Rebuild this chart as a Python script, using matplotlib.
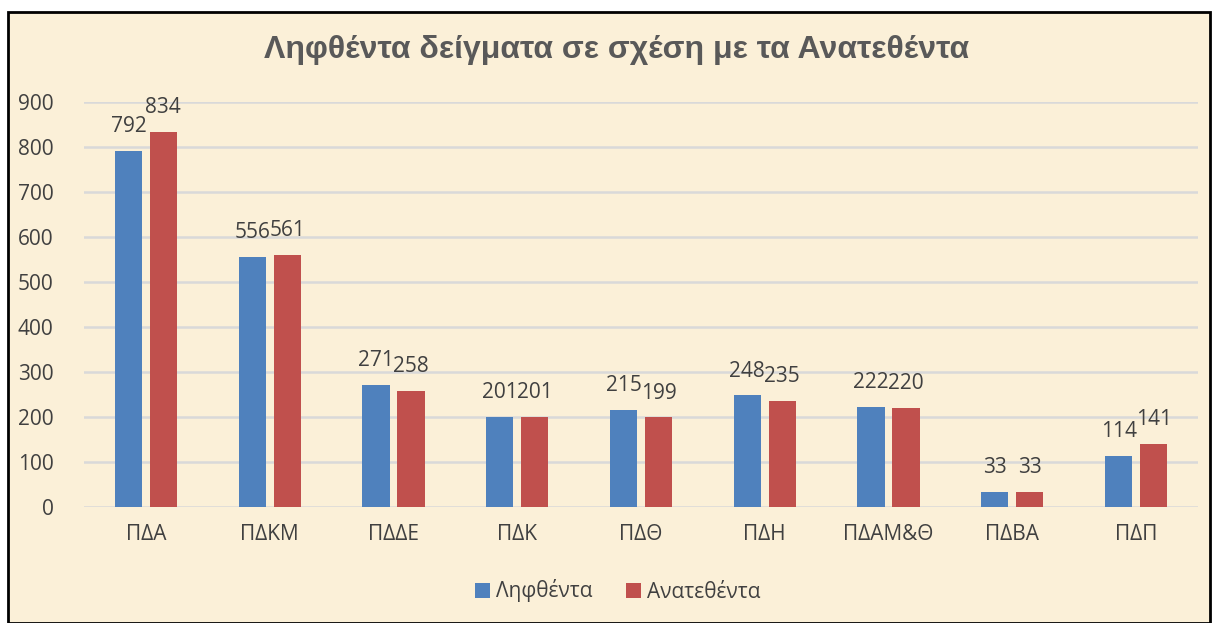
import matplotlib
matplotlib.use("Agg")
import matplotlib.pyplot as plt
import numpy as np
from matplotlib.patches import Rectangle

categories = ["ΠΔΑ", "ΠΔΚΜ", "ΠΔΔΕ", "ΠΔΚ", "ΠΔΘ", "ΠΔΗ", "ΠΔΑΜ&Θ", "ΠΔΒΑ", "ΠΔΠ"]
received = [792, 556, 271, 201, 215, 248, 222, 33, 114]
assigned = [834, 561, 258, 201, 199, 235, 220, 33, 141]
series_names = ["Ληφθέντα", "Ανατεθέντα"]
title = "Ληφθέντα δείγματα σε σχέση με τα Ανατεθέντα"

bg = "#FBF0D8"
blue = "#4F81BD"
red = "#C0504D"
txt = "#404040"
font = ["Open Sans", "DejaVu Sans"]
fs = 15

fig = plt.figure(figsize=(12.16, 6.23), dpi=100, facecolor="white")
fig.patches.append(Rectangle((8/1216, 0), 1202/1216, 1 - 12/623, transform=fig.transFigure,
                             facecolor=bg, edgecolor="black", linewidth=2, zorder=-5))

ax = fig.add_axes([84/1216, 1 - 507/623, (1198-84)/1216, (507-102)/623])
ax.set_facecolor("none")
ax.set_zorder(2)
x = np.arange(len(categories))
w = 0.22
off = 0.141
b1 = ax.bar(x - off, received, w, color=blue, label=series_names[0], zorder=3)
b2 = ax.bar(x + off, assigned, w, color=red, label=series_names[1], zorder=3)
for bars, vals in ((b1, received), (b2, assigned)):
    for r, v in zip(bars, vals):
        ax.annotate(str(v), (r.get_x() + r.get_width()/2, v), xytext=(0, 10),
                    textcoords="offset points", ha="center", va="bottom",
                    fontsize=fs, color=txt, family=font)

ax.set_xlim(-0.5, len(categories) - 0.5)
ax.set_ylim(0, 900)
ax.set_yticks(range(0, 901, 100))
ax.grid(axis="y", color="#D9D9D9", linewidth=1.8, zorder=0)
for s in ax.spines.values():
    s.set_visible(False)
ax.tick_params(axis="both", length=0, labelsize=fs, labelcolor=txt)
ax.tick_params(axis="y", pad=22)
ax.tick_params(axis="x", pad=12)
ax.set_xticks(x)
ax.set_xticklabels(categories, family=font)
for lab in ax.get_yticklabels():
    lab.set_family(font)

fig.text(617/1216, 1 - 50/623, title, ha="center", va="center", fontsize=23,
         fontweight="bold", color="#595959", family=["Liberation Sans", "DejaVu Sans"])

leg = fig.legend(handles=[b1, b2], labels=series_names, loc="center",
                 bbox_to_anchor=(618/1216, 1 - 591/623), ncol=2, frameon=False,
                 prop={"family": font, "size": fs}, handlelength=0.7, handleheight=0.7,
                 columnspacing=1.6, handletextpad=0.3, labelcolor=txt)

fig.savefig("out.png", dpi=100, facecolor="white")
